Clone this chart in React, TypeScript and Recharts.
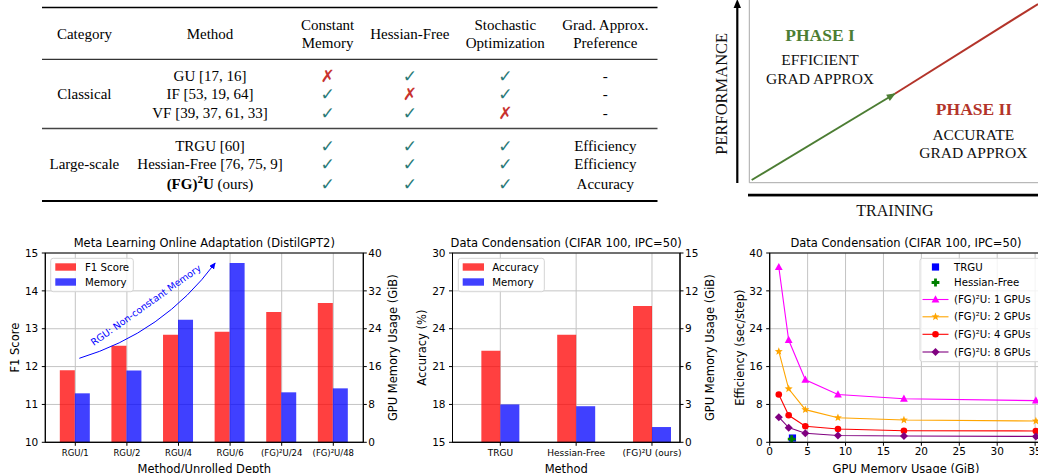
import React from 'react';
import {
  ComposedChart,
  LineChart,
  Line,
  Bar,
  Scatter,
  XAxis,
  YAxis,
  CartesianGrid,
} from 'recharts';

const FONT = "'DejaVu Sans', sans-serif";
const SERIF = "'Liberation Serif', 'Times New Roman', serif";

// ---------- Table data ----------
const tableColumns = ['Category', 'Method', 'Constant|Memory', 'Hessian-Free', 'Stochastic|Optimization', 'Grad. Approx.|Preference'];
const tableCategories = ['Classical', 'Large-scale'];
const tableMethods = ['GU [17, 16]', 'IF [53, 19, 64]', 'VF [39, 37, 61, 33]', 'TRGU [60]', 'Hessian-Free [76, 75, 9]', '(FG)²U (ours)'];
const constantMemory = [false, true, true, true, true, true];
const hessianFreeFlag = [true, false, true, true, true, true];
const stochasticFlag = [true, true, false, true, true, true];
const gradPreference = ['-', '-', '-', 'Efficiency', 'Efficiency', 'Accuracy'];

// ---------- Phase diagram data ----------
const phaseTraining = [0, 5, 10];
const phasePerformance = [0, 4.9, 10];

// ---------- Chart 1: Meta learning ----------
const metaMethods = ['RGU/1', 'RGU/2', 'RGU/4', 'RGU/6', '(FG)²U/24', '(FG)²U/48'];
const metaF1 = [11.9, 12.55, 12.84, 12.92, 13.44, 13.68];
const metaMemory = [10.35, 15.17, 25.9, 37.9, 10.56, 11.4];
const metaF1Ticks = [10, 11, 12, 13, 14, 15];
const metaMemTicks = [0, 8, 16, 24, 32, 40];

// ---------- Chart 2: Data condensation bars ----------
const condMethods = ['TRGU', 'Hessian-Free', '(FG)²U (ours)'];
const condAccuracy = [22.26, 23.52, 25.8];
const condMemory = [3.0, 2.86, 1.21];
const condAccTicks = [15, 18, 21, 24, 27, 30];
const condMemTicks = [0, 3, 6, 9, 12, 15];

// ---------- Chart 3: Efficiency vs memory ----------
const effMemory = [1.2, 2.5, 4.7, 9.0, 17.7, 35.1];
const eff1Gpu = [37.0, 21.6, 13.2, 10.1, 9.2, 8.8];
const eff2Gpu = [19.2, 11.3, 6.9, 5.2, 4.7, 4.5];
const eff4Gpu = [10.1, 5.7, 3.4, 2.8, 2.45, 2.4];
const eff8Gpu = [5.3, 3.1, 1.9, 1.45, 1.33, 1.25];
const trguPoint = { x: 3.0, y: 0.9 };
const hessianPoint = { x: 2.9, y: 0.65 };
const effXTicks = [0, 5, 10, 15, 20, 25, 30, 35];
const effYTicks = [0, 8, 16, 24, 32, 40];

const metaData = metaMethods.map((m, i) => ({ method: m, f1: metaF1[i], memory: metaMemory[i] }));
const condData = condMethods.map((m, i) => ({ method: m, acc: condAccuracy[i], memory: condMemory[i] }));
const toXY = (ys: number[]) => effMemory.map((x, i) => ({ x, y: ys[i] }));

const GREEN_PHASE = '#4c7d33';
const RED_PHASE = '#b3342a';

type MarkerKind = 'triangle' | 'star' | 'circle' | 'diamond' | 'square' | 'plus';

function marker(kind: MarkerKind, cx: number, cy: number, color: string, key?: string) {
  switch (kind) {
    case 'triangle':
      return <polygon key={key} points={`${cx},${cy - 4.3} ${cx - 3.9},${cy + 2.9} ${cx + 3.9},${cy + 2.9}`} fill={color} />;
    case 'star': {
      const pts: string[] = [];
      for (let k = 0; k < 10; k++) {
        const r = k % 2 === 0 ? 4.2 : 1.8;
        const a = -Math.PI / 2 + (k * Math.PI) / 5;
        pts.push(`${cx + r * Math.cos(a)},${cy + r * Math.sin(a)}`);
      }
      return <polygon key={key} points={pts.join(' ')} fill={color} />;
    }
    case 'circle':
      return <circle key={key} cx={cx} cy={cy} r={3.3} fill={color} />;
    case 'diamond':
      return <polygon key={key} points={`${cx},${cy - 4} ${cx + 4},${cy} ${cx},${cy + 4} ${cx - 4},${cy}`} fill={color} />;
    case 'square':
      return <rect key={key} x={cx - 3.6} y={cy - 3.6} width={7.2} height={7.2} fill={color} />;
    case 'plus':
    default:
      return (
        <path
          key={key}
          d={`M${cx - 1.4},${cy - 3.9}h2.8v2.5h2.5v2.8h-2.5v2.5h-2.8v-2.5h-2.5v-2.8h2.5z`}
          fill={color}
        />
      );
  }
}

const shapeFn = (kind: MarkerKind, color: string) => (p: any) => {
  if (p == null || p.cx == null) return <g />;
  return marker(kind, p.cx, p.cy, color);
};

const axisTick = (size: number) => ({ fontSize: size, fill: '#000', fontFamily: FONT });

// ---------- Table ----------
function TableFigure() {
  const cols = [84.4, 210, 327.6, 409.8, 505.3, 605.3];
  const rowY = [76, 94.3, 113.3, 145.7, 164.3, 184.3];
  const fs = 15;
  const check = (ok: boolean, x: number, y: number, key: string) => (
    <text
      key={key}
      x={x}
      y={y + 6}
      textAnchor="middle"
      fontFamily={FONT}
      fontSize={17}
      fontWeight="bold"
      fill={ok ? '#2a7a78' : '#c8322e'}
    >
      {ok ? '✓' : '✗'}
    </text>
  );
  return (
    <svg width={700} height={215} style={{ position: 'absolute', left: 0, top: 0 }}>
      <line x1={42} x2={657.5} y1={7.5} y2={7.5} stroke="#000" strokeWidth={1.6} />
      <line x1={42} x2={657.5} y1={59.3} y2={59.3} stroke="#000" strokeWidth={1} />
      <line x1={42} x2={657.5} y1={128.5} y2={128.5} stroke="#444" strokeWidth={1.6} />
      <line x1={42} x2={657.5} y1={201} y2={201} stroke="#000" strokeWidth={2} />
      {tableColumns.map((c, i) => {
        const parts = c.split('|');
        if (parts.length === 1) {
          return (
            <text key={c} x={cols[i]} y={34.3 + 5} textAnchor="middle" fontFamily={SERIF} fontSize={fs}>
              {c}
            </text>
          );
        }
        return (
          <g key={c}>
            <text x={cols[i]} y={25 + 5} textAnchor="middle" fontFamily={SERIF} fontSize={fs}>{parts[0]}</text>
            <text x={cols[i]} y={43.3 + 5} textAnchor="middle" fontFamily={SERIF} fontSize={fs}>{parts[1]}</text>
          </g>
        );
      })}
      <text x={cols[0]} y={94.3 + 5} textAnchor="middle" fontFamily={SERIF} fontSize={fs}>{tableCategories[0]}</text>
      <text x={cols[0]} y={164.3 + 5} textAnchor="middle" fontFamily={SERIF} fontSize={fs}>{tableCategories[1]}</text>
      {tableMethods.map((m, i) => {
        if (m.startsWith('(FG)')) {
          return (
            <text key={m} x={cols[1]} y={rowY[i] + 5} textAnchor="middle" fontFamily={SERIF} fontSize={fs}>
              <tspan fontWeight="bold">(FG)</tspan>
              <tspan fontWeight="bold" fontSize={11} dy={-6}>2</tspan>
              <tspan fontWeight="bold" dy={6}>U</tspan>
              <tspan> (ours)</tspan>
            </text>
          );
        }
        return (
          <text key={m} x={cols[1]} y={rowY[i] + 5} textAnchor="middle" fontFamily={SERIF} fontSize={fs}>{m}</text>
        );
      })}
      {rowY.map((y, i) => (
        <g key={'r' + i}>
          {check(constantMemory[i], cols[2], y, 'a' + i)}
          {check(hessianFreeFlag[i], cols[3], y, 'b' + i)}
          {check(stochasticFlag[i], cols[4], y, 'c' + i)}
          <text x={cols[5]} y={y + 5} textAnchor="middle" fontFamily={SERIF} fontSize={fs}>{gradPreference[i]}</text>
        </g>
      ))}
    </svg>
  );
}

// ---------- Phase diagram ----------
const phase1 = [0, 1].map((i) => ({ t: phaseTraining[i], p: phasePerformance[i] }));
const phase2 = [1, 2].map((i) => ({ t: phaseTraining[i], p: phasePerformance[i] }));

const arrowDot = (p: any) => {
  if (p == null || p.index !== 1) return <g key={'d' + (p ? p.index : 'x')} />;
  return (
    <polygon
      key="arrowhead"
      points="1,0 -8,-3.6 -8,3.6"
      fill={GREEN_PHASE}
      transform={`translate(${p.cx},${p.cy}) rotate(-31)`}
    />
  );
};

function PhaseFigure() {
  return (
    <>
      <svg width={340} height={225} style={{ position: 'absolute', left: 700, top: 0 }}>
        <g transform="translate(-700,0)">
          <line x1={749.3} x2={749.3} y1={0} y2={182.7} stroke="#a8a8a8" strokeWidth={1} />
          <line x1={749.3} x2={1040} y1={182.7} y2={182.7} stroke="#a8a8a8" strokeWidth={1} />
          <line x1={737.3} x2={737.3} y1={183} y2={6} stroke="#000" strokeWidth={2.2} />
          <polygon points="737.3,-1 733.6,8 741,8" fill="#000" />
          <line x1={748} x2={1040} y1={196} y2={196} stroke="#bbb" strokeWidth={2} />
          <line x1={748} x2={1040} y1={195} y2={195} stroke="#000" strokeWidth={2.4} />
          <text x={820} y={35 + 6} textAnchor="middle" fontFamily={SERIF} fontWeight="bold" fontSize={17.5} fill={GREEN_PHASE}>PHASE I</text>
          <text x={820} y={60 + 5.3} textAnchor="middle" fontFamily={SERIF} fontSize={15.5} fill="#111">EFFICIENT</text>
          <text x={820} y={79 + 5.3} textAnchor="middle" fontFamily={SERIF} fontSize={15.5} fill="#111">GRAD APPROX</text>
          <text x={974} y={109 + 6} textAnchor="middle" fontFamily={SERIF} fontWeight="bold" fontSize={17.5} fill={RED_PHASE}>PHASE II</text>
          <text x={973.3} y={134.3 + 5.3} textAnchor="middle" fontFamily={SERIF} fontSize={15.5} fill="#111">ACCURATE</text>
          <text x={973.3} y={152.7 + 5.3} textAnchor="middle" fontFamily={SERIF} fontSize={15.5} fill="#111">GRAD APPROX</text>
          <text x={895} y={210.7 + 5.5} textAnchor="middle" fontFamily={SERIF} fontSize={16} fill="#111">TRAINING</text>
          <text transform="translate(727.3,93.8) rotate(-90)" textAnchor="middle" fontFamily={SERIF} fontSize={16.5} fill="#111">PERFORMANCE</text>
        </g>
      </svg>
      <div style={{ position: 'absolute', left: 740, top: 0 }}>
        <LineChart width={300} height={200} margin={{ top: 4, right: 2, bottom: 20, left: 11.7 }}>
          <XAxis type="number" dataKey="t" domain={[0, 10]} hide />
          <YAxis type="number" dataKey="p" domain={[0, 10]} hide />
          <Line data={phase1} dataKey="p" stroke={GREEN_PHASE} strokeWidth={2} dot={arrowDot} activeDot={false} isAnimationActive={false} />
          <Line data={phase2} dataKey="p" stroke={RED_PHASE} strokeWidth={2} dot={false} activeDot={false} isAnimationActive={false} />
        </LineChart>
      </div>
    </>
  );
}

// ---------- Chart 1 ----------
function MetaChart() {
  return (
    <div style={{ position: 'absolute', left: 0, top: 230 }}>
      <ComposedChart
        width={420}
        height={243}
        data={metaData}
        margin={{ top: 23, right: 26.7, bottom: 0.7, left: 0 }}
        barCategoryGap="20%"
        barGap={0}
        style={{ fontFamily: FONT }}
      >
        <CartesianGrid yAxisId="f1" stroke="#c4c4c4" strokeWidth={1} />
        <XAxis
          dataKey="method"
          interval={0}
          padding={{ left: 4.2, right: 4.2 }}
          height={30}
          tick={axisTick(8.5)}
          tickSize={3.5}
          tickMargin={4}
          axisLine={{ stroke: '#000' }}
          tickLine={{ stroke: '#000' }}
        />
        <YAxis
          yAxisId="f1"
          type="number"
          domain={[10, 15]}
          ticks={metaF1Ticks}
          interval={0}
          width={45.3}
          tick={axisTick(10.5)}
          tickSize={3.5}
          tickMargin={3.5}
          axisLine={{ stroke: '#000' }}
          tickLine={{ stroke: '#000' }}
        />
        <YAxis
          yAxisId="mem"
          orientation="right"
          type="number"
          domain={[0, 40]}
          ticks={metaMemTicks}
          interval={0}
          width={30}
          tick={axisTick(10.5)}
          tickSize={3.5}
          tickMargin={1.5}
          axisLine={{ stroke: '#000' }}
          tickLine={{ stroke: '#000' }}
        />
        <Bar yAxisId="f1" dataKey="f1" fill="#ff0000" fillOpacity={0.75} isAnimationActive={false} />
        <Bar yAxisId="mem" dataKey="memory" fill="#0000ff" fillOpacity={0.75} isAnimationActive={false} />
      </ComposedChart>
    </div>
  );
}

// ---------- Chart 2 ----------
function CondensationBars() {
  return (
    <div style={{ position: 'absolute', left: 410, top: 230 }}>
      <ComposedChart
        width={320}
        height={243}
        data={condData}
        margin={{ top: 23, right: 20, bottom: 0.7, left: 0 }}
        barCategoryGap="25%"
        barGap={0}
        style={{ fontFamily: FONT }}
      >
        <CartesianGrid yAxisId="acc" stroke="#c4c4c4" strokeWidth={1} />
        <XAxis
          dataKey="method"
          interval={0}
          padding={{ left: 9.9, right: -9.9 }}
          height={30}
          tick={axisTick(9)}
          tickSize={3.5}
          tickMargin={4}
          axisLine={{ stroke: '#000' }}
          tickLine={{ stroke: '#000' }}
        />
        <YAxis
          yAxisId="acc"
          type="number"
          domain={[15, 30]}
          ticks={condAccTicks}
          interval={0}
          width={42.5}
          tick={axisTick(10.5)}
          tickSize={3.5}
          tickMargin={3.5}
          axisLine={{ stroke: '#000' }}
          tickLine={{ stroke: '#000' }}
        />
        <YAxis
          yAxisId="mem"
          orientation="right"
          type="number"
          domain={[0, 15]}
          ticks={condMemTicks}
          interval={0}
          width={30}
          tick={axisTick(10.5)}
          tickSize={3.5}
          tickMargin={1.5}
          axisLine={{ stroke: '#000' }}
          tickLine={{ stroke: '#000' }}
        />
        <Bar yAxisId="acc" dataKey="acc" fill="#ff0000" fillOpacity={0.75} isAnimationActive={false} />
        <Bar yAxisId="mem" dataKey="memory" fill="#0000ff" fillOpacity={0.75} isAnimationActive={false} />
      </ComposedChart>
    </div>
  );
}

// ---------- Chart 3 ----------
const effSeries: { name: string; data: number[]; color: string; kind: MarkerKind }[] = [
  { name: '1', data: eff1Gpu, color: '#ff00ff', kind: 'triangle' },
  { name: '2', data: eff2Gpu, color: '#ffa500', kind: 'star' },
  { name: '4', data: eff4Gpu, color: '#ff0000', kind: 'circle' },
  { name: '8', data: eff8Gpu, color: '#800080', kind: 'diamond' },
];

function EfficiencyChart() {
  return (
    <div style={{ position: 'absolute', left: 720, top: 230 }}>
      <ComposedChart
        width={340}
        height={243}
        margin={{ top: 23, right: 17.3, bottom: 0.7, left: 0 }}
        style={{ fontFamily: FONT }}
      >
        <CartesianGrid stroke="#c4c4c4" strokeWidth={1} />
        <XAxis
          type="number"
          dataKey="x"
          domain={[0, 36]}
          ticks={effXTicks}
          interval={0}
          height={30}
          tick={axisTick(10.5)}
          tickSize={3.5}
          tickMargin={2}
          axisLine={{ stroke: '#000' }}
          tickLine={{ stroke: '#000' }}
        />
        <YAxis
          type="number"
          dataKey="y"
          domain={[0, 40]}
          ticks={effYTicks}
          interval={0}
          width={49.7}
          tick={axisTick(10.5)}
          tickSize={3.5}
          tickMargin={3.5}
          axisLine={{ stroke: '#000' }}
          tickLine={{ stroke: '#000' }}
        />
        {effSeries.map((s) => (
          <Scatter
            key={s.name}
            data={toXY(s.data)}
            fill={s.color}
            line={{ stroke: s.color, strokeWidth: 1.1 }}
            shape={shapeFn(s.kind, s.color)}
            isAnimationActive={false}
          />
        ))}
        <Scatter data={[trguPoint]} fill="#0000ff" shape={shapeFn('square', '#0000ff')} isAnimationActive={false} />
        <Scatter data={[hessianPoint]} fill="#008000" shape={shapeFn('plus', '#008000')} isAnimationActive={false} />
      </ComposedChart>
    </div>
  );
}

// ---------- Overlay: titles, labels, legends, frames ----------
function RotLabel({ x, y, text, fs = 11.5 }: { x: number; y: number; text: string; fs?: number }) {
  return (
    <text transform={`translate(${x + 0.36 * fs},${y}) rotate(-90)`} textAnchor="middle" fontFamily={FONT} fontSize={fs} fill="#000">
      {text}
    </text>
  );
}

function HLabel({ x, y, text, fs = 11.5, base }: { x: number; y: number; text: string; fs?: number; base?: boolean }) {
  return (
    <text x={x} y={base ? y : y + 0.36 * fs} textAnchor="middle" fontFamily={FONT} fontSize={fs} fill="#000">
      {text}
    </text>
  );
}

function LegendBox({ x, y, w, h }: { x: number; y: number; w: number; h: number }) {
  return <rect x={x} y={y} width={w} height={h} rx={2.5} fill="#fff" fillOpacity={0.8} stroke="#d4d4d4" strokeWidth={1} />;
}

function Overlay() {
  const plotTop = 253;
  const plotBottom = 442.3;
  const midY = (plotTop + plotBottom) / 2;
  const legendRowsY = [267, 282.5, 299.5, 316.8, 334.3, 352];
  return (
    <svg width={1038} height={473} style={{ position: 'absolute', left: 0, top: 0, pointerEvents: 'none' }}>
      <defs>
        <marker id="annArrow" markerWidth="8" markerHeight="8" refX="6" refY="3" orient="auto" markerUnits="userSpaceOnUse">
          <path d="M0,0 L6.5,3 L0,6 z" fill="#0000ff" />
        </marker>
      </defs>
      <rect x={45.3} y={plotTop} width={318} height={plotBottom - plotTop} fill="none" stroke="#000" strokeWidth={1} />
      <rect x={452.5} y={plotTop} width={227.5} height={plotBottom - plotTop} fill="none" stroke="#000" strokeWidth={1} />
      <rect x={769.7} y={plotTop} width={273} height={plotBottom - plotTop} fill="none" stroke="#000" strokeWidth={1} />

      <HLabel x={204.3} y={243.3} text="Meta Learning Online Adaptation (DistilGPT2)" />
      <HLabel x={566.2} y={243.3} text="Data Condensation (CIFAR 100, IPC=50)" />
      <HLabel x={906} y={243.3} text="Data Condensation (CIFAR 100, IPC=50)" />

      <HLabel x={204.3} y={472.5} text="Method/Unrolled Depth" base />
      <HLabel x={566.2} y={472.5} text="Method" base />
      <HLabel x={906} y={472.5} text="GPU Memory Usage (GiB)" base />
      <RotLabel x={15} y={midY} text="F1 Score" />
      <RotLabel x={393.3} y={midY} text="GPU Memory Usage (GiB)" />
      <RotLabel x={421.7} y={midY} text="Accuracy (%)" />
      <RotLabel x={710} y={midY} text="GPU Memory Usage (GiB)" />
      <RotLabel x={740} y={midY} text="Efficiency (sec/step)" />

      <path d="M79.3,358.3 Q163,333 215.2,263" fill="none" stroke="#0000ff" strokeWidth={1} markerEnd="url(#annArrow)" />
      <text
        transform="translate(147.8,307.8) rotate(-35.3)"
        textAnchor="middle"
        fontFamily={FONT}
        fontSize={9.5}
        fill="#0000ff"
      >
        RGU: Non-constant Memory
      </text>

      <LegendBox x={50.7} y={258.3} w={82.6} h={33.4} />
      <rect x={55.3} y={263.3} width={20.7} height={7.4} fill="#ff0000" fillOpacity={0.75} />
      <rect x={55.3} y={278.3} width={20.7} height={7.4} fill="#0000ff" fillOpacity={0.75} />
      <text x={85} y={267 + 3.6} fontFamily={FONT} fontSize={10.2}>F1 Score</text>
      <text x={85} y={282 + 3.6} fontFamily={FONT} fontSize={10.2}>Memory</text>

      <LegendBox x={458.3} y={258.3} w={86} h={33.4} />
      <rect x={462.7} y={263.3} width={21.3} height={7.4} fill="#ff0000" fillOpacity={0.75} />
      <rect x={462.7} y={278.3} width={21.3} height={7.4} fill="#0000ff" fillOpacity={0.75} />
      <text x={492.3} y={267 + 3.6} fontFamily={FONT} fontSize={10.2}>Accuracy</text>
      <text x={492.3} y={282 + 3.6} fontFamily={FONT} fontSize={10.2}>Memory</text>

      <LegendBox x={920} y={258.3} w={125} h={103.4} />
      {marker('square', 935.5, legendRowsY[0], '#0000ff')}
      <text x={954} y={legendRowsY[0] + 3.6} fontFamily={FONT} fontSize={10.2}>TRGU</text>
      {marker('plus', 935.5, legendRowsY[1], '#008000')}
      <text x={954} y={legendRowsY[1] + 3.6} fontFamily={FONT} fontSize={10.2}>Hessian-Free</text>
      {effSeries.map((s, i) => (
        <g key={'lg' + s.name}>
          <line x1={922.5} x2={948.5} y1={legendRowsY[i + 2]} y2={legendRowsY[i + 2]} stroke={s.color} strokeWidth={1.1} />
          {marker(s.kind, 935.5, legendRowsY[i + 2], s.color)}
          <text x={954} y={legendRowsY[i + 2] + 3.6} fontFamily={FONT} fontSize={10.2}>
            {`(FG)²U: ${s.name} GPUs`}
          </text>
        </g>
      ))}
    </svg>
  );
}

export default function App() {
  return (
    <div
      style={{
        position: 'absolute',
        left: 0,
        top: 0,
        width: 1038,
        height: 473,
        overflow: 'hidden',
        background: '#fff',
      }}
    >
      <TableFigure />
      <PhaseFigure />
      <MetaChart />
      <CondensationBars />
      <EfficiencyChart />
      <Overlay />
    </div>
  );
}
